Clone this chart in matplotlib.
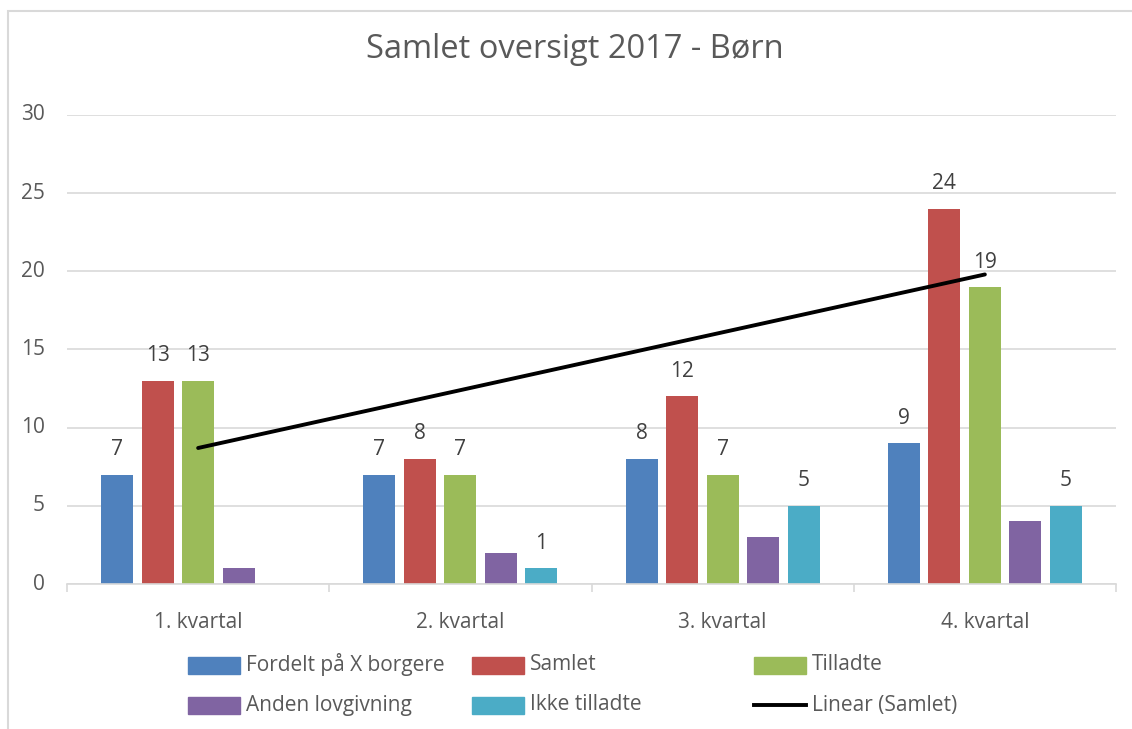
import numpy as np
import matplotlib
matplotlib.use("Agg")
import matplotlib.pyplot as plt
from matplotlib.patches import Rectangle
from matplotlib.lines import Line2D

plt.rcParams['font.family'] = ['Open Sans', 'DejaVu Sans']

categories = ['1. kvartal', '2. kvartal', '3. kvartal', '4. kvartal']
series_names = ['Fordelt på X borgere', 'Samlet', 'Tilladte', 'Anden lovgivning', 'Ikke tilladte']
fordelt = [7, 7, 8, 9]
samlet = [13, 8, 12, 24]
tilladte = [13, 7, 7, 19]
anden = [1, 2, 3, 4]
ikke = [0, 1, 5, 5]
colors = ['#4F81BD', '#C0504D', '#9BBB59', '#8064A2', '#4BACC6']
show_labels = [True, True, True, False, True]
trend_name = 'Linear (Samlet)'

W, H = 1132, 729
fig = plt.figure(figsize=(W / 100, H / 100), dpi=100)
ax = fig.add_axes([67 / W, (H - 584) / H, (1116 - 67) / W, (584 - 115) / H])

txt = '#595959'
grid = '#D9D9D9'
x = np.arange(len(categories))
step = 0.1545
width = 0.122
all_series = [fordelt, samlet, tilladte, anden, ikke]
for i, vals in enumerate(all_series):
    pos = x + (i - 2) * step
    ax.bar(pos, vals, width, color=colors[i], zorder=2)
    if show_labels[i]:
        for p, v in zip(pos, vals):
            if v > 0:
                ax.annotate(str(v), (p, v), xytext=(0, 14), textcoords='offset points',
                            ha='center', va='baseline', fontsize=15, color='#404040')

# linear trend of Samlet
coef = np.polyfit(np.arange(1, 5), samlet, 1)
xt = np.array([1, 4])
ax.plot(xt - 1, np.polyval(coef, xt), color='black', lw=2.8, zorder=3, solid_capstyle='round')

ax.set_xlim(-0.5, 3.5)
ax.set_ylim(0, 30)
ax.set_yticks(range(0, 31, 5))
ax.yaxis.grid(True, color=grid, lw=1.2, zorder=0)
ax.set_axisbelow(True)
for s in ['left', 'right', 'top']:
    ax.spines[s].set_visible(False)
ax.spines['bottom'].set_color(grid)
ax.spines['bottom'].set_linewidth(1.2)
ax.tick_params(axis='y', length=0, pad=16, labelsize=15, labelcolor=txt)
ax.set_xticks(x)
ax.set_xticklabels(categories)
ax.tick_params(axis='x', which='major', length=0, pad=20, labelsize=15, labelcolor=txt)
ax.set_xticks(np.arange(-0.5, 4, 1), minor=True)
ax.tick_params(axis='x', which='minor', length=5.5, color=grid, width=1.2)
for lab in ax.get_yticklabels():
    lab.set_verticalalignment('center')

fig.text(575 / W, (H - 49) / H, 'Samlet oversigt 2017 - Børn', ha='center', va='center',
         fontsize=23.5, color=txt)

# chart border (Excel style)
fig.add_artist(Rectangle((8 / W, -0.05), 1.2, (H - 11) / H + 0.05, transform=fig.transFigure,
                         fill=False, edgecolor=grid, lw=1.5))

# legend, laid out in rows like Excel
entries = [(series_names[0], colors[0]), (series_names[1], colors[1]), (series_names[2], colors[2]),
           (series_names[3], colors[3]), (series_names[4], colors[4]), (trend_name, None)]
col_x = [188, 472, 754]
row_y = [665, 705]
for k, (name, c) in enumerate(entries):
    cx = col_x[k % 3]
    cy = row_y[k // 3]
    if c is None:
        fig.add_artist(Line2D([cx / W, (cx + 52) / W], [(H - cy) / H] * 2, color='black', lw=2.8,
                              transform=fig.transFigure))
    else:
        fig.add_artist(Rectangle((cx / W, (H - cy - 8.5) / H), 52 / W, 17 / H, color=c,
                                 transform=fig.transFigure))
    fig.text((cx + 58) / W, (H - cy) / H, name, ha='left', va='center', fontsize=15, color=txt)

fig.savefig('out.png', dpi=100)
